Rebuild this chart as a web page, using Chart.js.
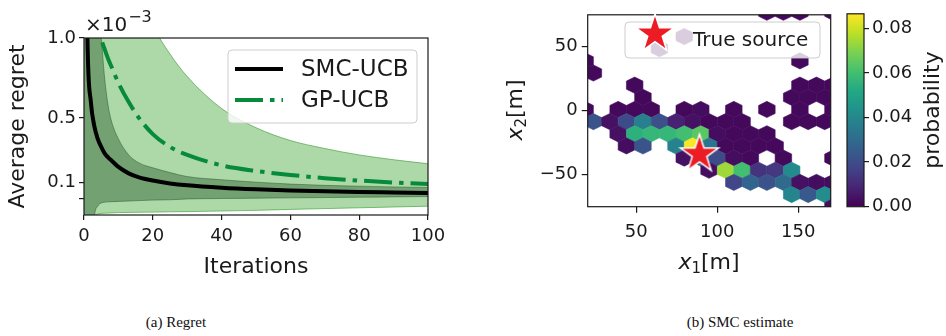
<!DOCTYPE html>
<html>
<head>
<meta charset="utf-8">
<script src="https://cdn.jsdelivr.net/npm/chart.js@4.4.0/dist/chart.umd.min.js"></script>
<style>
  html, body { margin: 0; padding: 0; background: #fff; }
  body { width: 946px; height: 336px; position: relative; overflow: hidden; }
  .panel { position: absolute; top: 0; }
  .cap { position: absolute; top: 314px; font-family: "Liberation Serif", "Times New Roman", serif; font-size: 15px; color: #111; transform: translateX(-50%); white-space: nowrap; }
</style>
</head>
<body>
<canvas id="regret" class="panel" style="left:0" width="452" height="290"></canvas>
<canvas id="smc" class="panel" style="left:490px" width="345" height="290"></canvas>
<canvas id="cbar" class="panel" style="left:840px" width="106" height="290"></canvas>
<div class="cap" style="left:176px">(a) Regret</div>
<div class="cap" style="left:740px">(b) SMC estimate</div>

<script>
// ---- (a) regret curves, values in units of 1e-3 ----
const iterations = [0, 1, 2, 3, 4, 5, 6, 7, 8, 10, 13, 16, 20, 25, 30, 40, 50, 60, 70, 80, 90, 100];
const smcMean  = [3.0, 1.0, 0.6, 0.45, 0.37, 0.32, 0.28, 0.255, 0.235, 0.195, 0.155, 0.13, 0.11, 0.092, 0.08, 0.065, 0.055, 0.048, 0.043, 0.039, 0.036, 0.033];
const smcUpper = [8, 4, 2, 1.4, 1.15, 1.0, 0.75, 0.58, 0.48, 0.37, 0.27, 0.22, 0.19, 0.16, 0.135, 0.115, 0.1, 0.088, 0.08, 0.075, 0.07, 0.067];
const smcLower = [-3, -1, -0.5, -0.12, -0.05, -0.03, -0.025, -0.023, -0.022, -0.02, -0.018, -0.015, -0.012, -0.01, -0.005, -0.002, 0.0, 0.002, 0.004, 0.006, 0.008, 0.01];
const gpMean   = [3, 2.2, 1.7, 1.4, 1.15, 1.0, 0.93, 0.87, 0.82, 0.72, 0.6, 0.5, 0.4, 0.32, 0.27, 0.205, 0.17, 0.145, 0.125, 0.11, 0.098, 0.088];
const gpUpper  = [10, 8, 6, 5, 4, 3.2, 2.8, 2.5, 2.2, 1.8, 1.5, 1.3, 1.08, 0.9, 0.76, 0.56, 0.44, 0.36, 0.31, 0.27, 0.24, 0.215];
const gpLower  = [-3, -1, -0.5, -0.12, -0.1, -0.095, -0.094, -0.093, -0.092, -0.09, -0.089, -0.088, -0.087, -0.085, -0.084, -0.08, -0.076, -0.07, -0.065, -0.06, -0.055, -0.05];
const regretTicks = [0, 0.1, 0.5, 1.0];

// ---- (b) hexbin cells: bin centre x, y [m] and probability ----
const hexX = [
  130.6, 140.8, 151.0, 171.4,
  79.6,
  64.3,
  18.4, 151.0,
  23.5,
  49.0, 151.0, 161.2, 171.4,
  54.1, 145.9, 156.1, 166.3,
  18.4, 38.8, 49.0, 59.2, 79.6, 89.8, 110.2, 130.6, 151.0, 171.4,
  23.5, 33.7, 43.9, 54.1, 64.3, 74.5, 84.7, 94.9, 105.1, 115.3, 145.9, 156.1, 166.3,
  38.8, 49.0, 59.2, 69.4, 79.6, 89.8, 100.0, 110.2, 120.4, 130.6,
  43.9, 54.1, 74.5, 84.7, 94.9, 105.1, 115.3, 125.5, 135.7,
  79.6, 89.8, 100.0, 110.2, 120.4, 140.8, 171.4,
  94.9, 105.1, 115.3, 125.5, 135.7, 145.9,
  110.2, 120.4, 130.6, 140.8, 151.0, 161.2, 171.4,
  145.9, 156.1, 166.3,
  171.4
];
const hexY = [
  77, 77, 77, 77,
  58,
  48.5,
  39, 39,
  29.5,
  20, 20, 20, 20,
  10.5, 10.5, 10.5, 10.5,
  1, 1, 1, 1, 1, 1, 1, 1, 1, 1,
  -8.5, -8.5, -8.5, -8.5, -8.5, -8.5, -8.5, -8.5, -8.5, -8.5, -8.5, -8.5, -8.5,
  -18, -18, -18, -18, -18, -18, -18, -18, -18, -18,
  -27.5, -27.5, -27.5, -27.5, -27.5, -27.5, -27.5, -27.5, -27.5,
  -37, -37, -37, -37, -37, -37, -37,
  -46.5, -46.5, -46.5, -46.5, -46.5, -46.5,
  -56, -56, -56, -56, -56, -56, -56,
  -65.5, -65.5, -65.5,
  -75
];
const hexP = [
  0.002, 0.002, 0.002, 0.002,
  0.002,
  0.002,
  0.002, 0.002,
  0.002,
  0.002, 0.002, 0.002, 0.002,
  0.002, 0.002, 0.002, 0.002,
  0.002, 0.002, 0.002, 0.002, 0.002, 0.003, 0.002, 0.002, 0.002, 0.002,
  0.022, 0.004, 0.02, 0.037, 0.021, 0.008, 0.004, 0.002, 0.002, 0.002, 0.002, 0.002, 0.002,
  0.004, 0.055, 0.057, 0.057, 0.06, 0.064, 0.003, 0.002, 0.002, 0.002,
  0.003, 0.022, 0.038, 0.086, 0.034, 0.002, 0.002, 0.002, 0.002,
  0.004, 0.03, 0.02, 0.003, 0.002, 0.002, 0.002,
  0.003, 0.074, 0.06, 0.013, 0.014, 0.041,
  0.018, 0.028, 0.022, 0.03, 0.004, 0.003, 0.003,
  0.039, 0.024, 0.042,
  0.003
];
const sourceX = [89];
const sourceY = [-34];
const xTicksB = [50, 100, 150];
const yTicksB = [-50, 0, 50];
const cbarTicks = [0, 0.02, 0.04, 0.06, 0.08];
const P_MAX = 0.0865;

// ---- shared styling ----
const INK = '#1a1a1a';
const TICK_FONT = { family: 'DejaVu Sans', size: 18 };
Chart.defaults.font.family = 'DejaVu Sans';
Chart.defaults.color = INK;

const VIRIDIS = [[68,1,84],[72,36,117],[65,68,135],[53,95,141],[42,120,142],[33,145,140],[34,168,132],[68,191,112],[122,209,81],[189,223,38],[253,231,37]];
function viridis(t) {
  t = Math.min(1, Math.max(0, t)) * 10;
  const i = Math.min(9, Math.floor(t)), f = t - i;
  const a = VIRIDIS[i], b = VIRIDIS[i + 1];
  return `rgb(${a.map((v, k) => Math.round(v + (b[k] - v) * f)).join(',')})`;
}

const framePlugin = {
  id: 'frame',
  afterDatasetsDraw(chart) {
    const { ctx, chartArea: a } = chart;
    ctx.save();
    ctx.strokeStyle = INK;
    ctx.lineWidth = 1.2;
    ctx.strokeRect(a.left, a.top, a.right - a.left, a.bottom - a.top);
    ctx.restore();
  }
};

function roundBox(ctx, x, y, w, h, r) {
  ctx.beginPath();
  ctx.roundRect(x, y, w, h, r);
  ctx.fillStyle = 'rgba(255,255,255,0.8)';
  ctx.fill();
  ctx.strokeStyle = 'rgba(200,200,200,0.9)';
  ctx.lineWidth = 1;
  ctx.stroke();
}

// star marker as a small canvas
function makeStar(R) {
  const c = document.createElement('canvas');
  const s = Math.ceil(R * 2 + 6);
  c.width = s; c.height = s;
  const g = c.getContext('2d');
  const r = R * 0.382;
  g.beginPath();
  for (let i = 0; i < 10; i++) {
    const ang = -Math.PI / 2 + i * Math.PI / 5;
    const rr = i % 2 ? r : R;
    g.lineTo(s / 2 + rr * Math.cos(ang), s / 2 + rr * Math.sin(ang));
  }
  g.closePath();
  g.fillStyle = '#ec1c24';
  g.fill();
  g.strokeStyle = '#fff';
  g.lineWidth = 1.5;
  g.stroke();
  return c;
}
const starImg = makeStar(20);

// ---- (a) Regret ----
const pts = arr => iterations.map((x, i) => ({ x, y: arr[i] }));
const bandLine = { pointRadius: 0, cubicInterpolationMode: 'monotone', borderWidth: 1 };

const regretExtras = {
  id: 'regretExtras',
  afterDraw(chart) {
    const { ctx } = chart;
    ctx.save();
    // offset text
    ctx.fillStyle = INK;
    ctx.textBaseline = 'alphabetic';
    ctx.font = '20px "DejaVu Sans"';
    ctx.fillText('\u00d710', 85, 31);
    const w = ctx.measureText('\u00d710').width;
    ctx.font = '16px "DejaVu Sans"';
    ctx.fillText('\u22123', 85 + w + 1, 22);
    // legend
    roundBox(ctx, 228, 50, 189, 73, 4);
    ctx.lineWidth = 4;
    ctx.strokeStyle = '#000';
    ctx.beginPath(); ctx.moveTo(235, 69); ctx.lineTo(283, 69); ctx.stroke();
    ctx.strokeStyle = '#078a3a';
    ctx.setLineDash([28, 7, 4.5, 7]);
    ctx.beginPath(); ctx.moveTo(235, 100); ctx.lineTo(283, 100); ctx.stroke();
    ctx.setLineDash([]);
    ctx.fillStyle = INK;
    ctx.font = '23px "DejaVu Sans"';
    ctx.textBaseline = 'middle';
    ctx.fillText('SMC-UCB', 301, 70);
    ctx.fillText('GP-UCB', 301, 101);
    ctx.restore();
  }
};

new Chart(document.getElementById('regret'), {
  type: 'line',
  data: {
    datasets: [
      { label: 'GP-UCB band', data: pts(gpUpper), fill: '+1', backgroundColor: 'rgba(60,165,50,0.42)', borderColor: 'rgba(50,150,45,0.6)', order: 5, ...bandLine },
      { label: 'GP-UCB low', data: pts(gpLower), fill: false, borderColor: 'rgba(50,150,45,0.6)', order: 5, ...bandLine },
      { label: 'SMC-UCB band', data: pts(smcUpper), fill: '+1', backgroundColor: 'rgba(20,70,20,0.38)', borderColor: 'rgba(30,80,30,0.45)', order: 4, ...bandLine },
      { label: 'SMC-UCB low', data: pts(smcLower), fill: false, borderColor: 'rgba(30,80,30,0.45)', order: 4, ...bandLine },
      { label: 'GP-UCB', data: pts(gpMean), borderColor: '#078a3a', borderWidth: 4, borderDash: [28, 7, 4.5, 7], pointRadius: 0, cubicInterpolationMode: 'monotone', fill: false, order: 2 },
      { label: 'SMC-UCB', data: pts(smcMean), borderColor: '#000', borderWidth: 4, pointRadius: 0, cubicInterpolationMode: 'monotone', fill: false, order: 1 }
    ]
  },
  options: {
    responsive: false,
    animation: false,
    layout: { autoPadding: false, padding: { left: 0, top: 38, right: 24, bottom: 0 } },
    plugins: { legend: { display: false }, tooltip: { enabled: false } },
    scales: {
      x: {
        type: 'linear', min: 0, max: 100,
        ticks: { stepSize: 20, font: TICK_FONT, color: INK, padding: 6, maxRotation: 0 },
        grid: { drawOnChartArea: false, tickLength: 5, color: INK, lineWidth: 1.2 },
        border: { display: false },
        title: { display: true, text: 'Iterations', font: { size: 22 }, color: INK, padding: { top: 0, bottom: 10 } },
        afterFit: s => { s.height = 75; }
      },
      y: {
        min: -0.105, max: 1.0,
        afterBuildTicks: s => { s.ticks = regretTicks.map(v => ({ value: v })); },
        ticks: { font: TICK_FONT, color: INK, padding: 3, callback: v => (v === 0 ? '' : v.toFixed(1)) },
        grid: { drawOnChartArea: false, tickLength: 5, color: INK, lineWidth: 1.2 },
        border: { display: false },
        title: { display: true, text: 'Average regret', font: { size: 22 }, color: INK, padding: { top: 5, bottom: 0 } },
        afterFit: s => { s.width = 84; }
      }
    }
  },
  plugins: [framePlugin, regretExtras]
});

// ---- (b) SMC estimate ----
const HEX_W = 10.2;   // bin width [m]
const HEX_H = 12.67;  // vertex-to-vertex height [m]

const hexPlugin = {
  id: 'hexcells',
  beforeDatasetsDraw(chart) {
    const { ctx, chartArea: a, scales: { x, y } } = chart;
    ctx.save();
    ctx.beginPath();
    ctx.rect(a.left, a.top, a.right - a.left, a.bottom - a.top);
    ctx.clip();
    const hw = HEX_W / 2, ht = HEX_H / 2, hs = HEX_H / 4;
    hexX.forEach((cx, i) => {
      const cy = hexY[i];
      const corners = [[cx, cy + ht], [cx + hw, cy + hs], [cx + hw, cy - hs], [cx, cy - ht], [cx - hw, cy - hs], [cx - hw, cy + hs]];
      ctx.beginPath();
      corners.forEach(([px, py], n) => {
        const X = x.getPixelForValue(px), Y = y.getPixelForValue(py);
        if (n) ctx.lineTo(X, Y); else ctx.moveTo(X, Y);
      });
      ctx.closePath();
      ctx.fillStyle = viridis(hexP[i] / P_MAX);
      ctx.fill();
      ctx.strokeStyle = ctx.fillStyle;
      ctx.lineWidth = 0.6;
      ctx.stroke();
    });
    ctx.restore();
  }
};

function subLabel(ctx, sub, x, y, rot) {
  ctx.save();
  ctx.translate(x, y);
  ctx.rotate(rot);
  ctx.fillStyle = INK;
  ctx.textBaseline = 'alphabetic';
  const fx = 'italic 22px "DejaVu Sans"', fs = '15px "DejaVu Sans"', fm = '22px "DejaVu Sans"';
  ctx.font = fx; const w1 = ctx.measureText('x').width;
  ctx.font = fs; const w2 = ctx.measureText(sub).width;
  ctx.font = fm; const w3 = ctx.measureText('[m]').width;
  let cx = -(w1 + w2 + w3) / 2;
  ctx.font = fx; ctx.fillText('x', cx, 7); cx += w1;
  ctx.font = fs; ctx.fillText(sub, cx, 11); cx += w2;
  ctx.font = fm; ctx.fillText('[m]', cx, 7);
  ctx.restore();
}

const smcExtras = {
  id: 'smcExtras',
  afterDraw(chart) {
    const { ctx } = chart;
    subLabel(ctx, '1', 219, 262, 0);
    subLabel(ctx, '2', 25, 110, -Math.PI / 2);
    // legend
    ctx.save();
    roundBox(ctx, 135, 22, 195, 36, 4);
    ctx.drawImage(starImg, 165 - starImg.width / 2, 34 - starImg.height / 2);
    ctx.fillStyle = INK;
    ctx.font = '20px "DejaVu Sans"';
    ctx.textBaseline = 'middle';
    ctx.fillText('True source', 203, 41);
    ctx.restore();
  }
};

const minusFmt = v => (v < 0 ? '\u2212' + Math.abs(v) : String(v));

new Chart(document.getElementById('smc'), {
  type: 'scatter',
  data: {
    datasets: [{
      label: 'True source',
      data: sourceX.map((x, i) => ({ x, y: sourceY[i] })),
      pointStyle: starImg,
      pointRadius: 20
    }]
  },
  options: {
    responsive: false,
    animation: false,
    layout: { autoPadding: false, padding: { left: 0, top: 12.7, right: 4.3, bottom: 0 } },
    plugins: { legend: { display: false }, tooltip: { enabled: false } },
    scales: {
      x: {
        type: 'linear', min: 20, max: 170,
        afterBuildTicks: s => { s.ticks = xTicksB.map(v => ({ value: v })); },
        ticks: { font: TICK_FONT, color: INK, padding: 9, maxRotation: 0, callback: minusFmt },
        grid: { drawOnChartArea: false, tickLength: 6, color: INK, lineWidth: 1.2 },
        border: { display: false },
        afterFit: s => { s.height = 83.3; }
      },
      y: {
        type: 'linear', min: -75, max: 75,
        afterBuildTicks: s => { s.ticks = yTicksB.map(v => ({ value: v })); },
        ticks: { font: TICK_FONT, color: INK, padding: 4, callback: minusFmt },
        grid: { drawOnChartArea: false, tickLength: 6, color: INK, lineWidth: 1.2 },
        border: { display: false },
        afterFit: s => { s.width = 97.7; }
      }
    }
  },
  plugins: [hexPlugin, framePlugin, smcExtras]
});

// ---- colorbar ----
const cbarLabel = {
  id: 'cbarLabel',
  afterDraw(chart) {
    const { ctx } = chart;
    ctx.save();
    ctx.translate(93, 110);
    ctx.rotate(-Math.PI / 2);
    ctx.fillStyle = INK;
    ctx.font = '22px "DejaVu Sans"';
    ctx.textAlign = 'center';
    ctx.textBaseline = 'middle';
    ctx.fillText('probability', 0, 0);
    ctx.restore();
  }
};

new Chart(document.getElementById('cbar'), {
  type: 'bar',
  data: {
    labels: [''],
    datasets: [{
      data: [[0, P_MAX]],
      barPercentage: 1,
      categoryPercentage: 1,
      borderWidth: 0,
      backgroundColor: c => {
        const a = c.chart.chartArea;
        if (!a) return '#440154';
        const g = c.chart.ctx.createLinearGradient(0, a.bottom, 0, a.top);
        VIRIDIS.forEach((col, i) => g.addColorStop(i / 10, `rgb(${col.join(',')})`));
        return g;
      }
    }]
  },
  options: {
    responsive: false,
    animation: false,
    layout: { padding: { left: 7, top: 13.3, right: 0, bottom: 83.3 } },
    plugins: { legend: { display: false }, tooltip: { enabled: false } },
    scales: {
      x: { display: false },
      y: {
        position: 'right', min: 0, max: P_MAX,
        afterBuildTicks: s => { s.ticks = cbarTicks.map(v => ({ value: v })); },
        ticks: { font: TICK_FONT, color: INK, padding: 3, callback: v => v.toFixed(2) },
        grid: { drawOnChartArea: false, tickLength: 5, color: INK, lineWidth: 1.2 },
        border: { display: false },
        afterFit: s => { s.width = 82; }
      }
    }
  },
  plugins: [framePlugin, cbarLabel]
});
</script>
</body>
</html>
